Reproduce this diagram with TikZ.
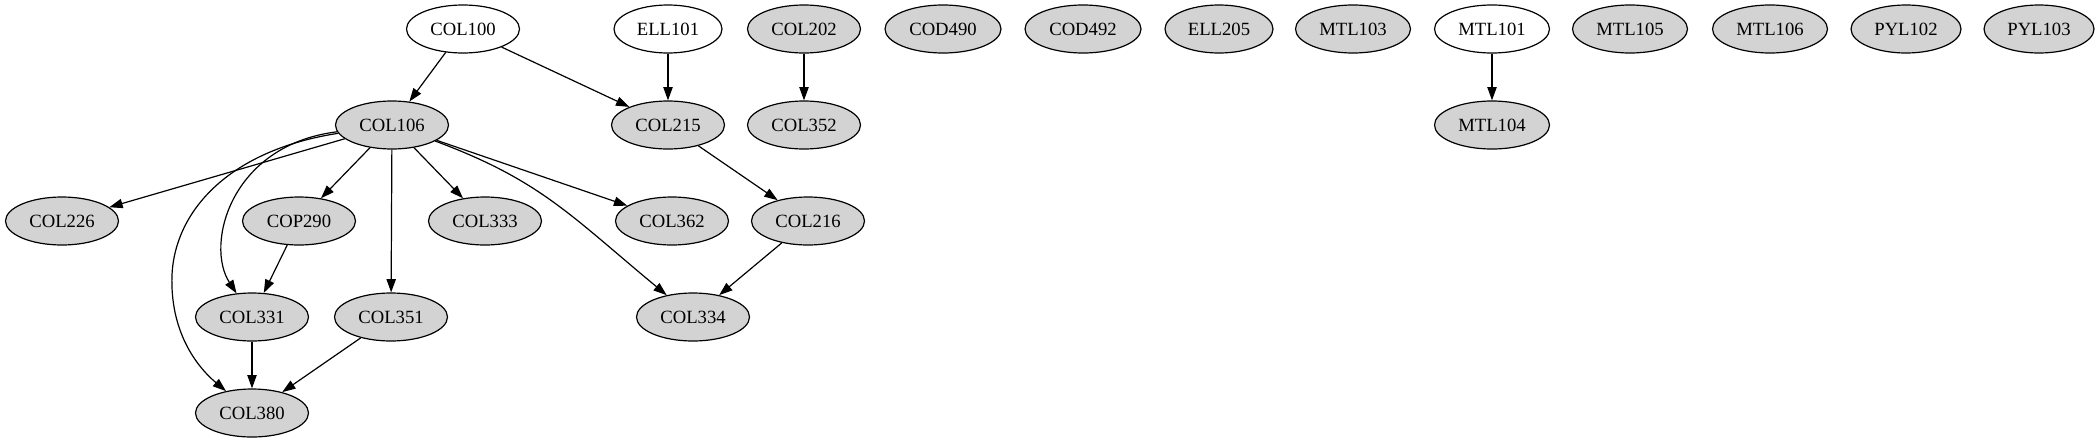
\documentclass[tikz,border=0pt]{standalone}
\usepackage{fontspec}
\setmainfont{Liberation Serif}
\usetikzlibrary{shapes.geometric,arrows.meta}
\definecolor{ngray}{HTML}{D3D3D3}
\tikzset{
  crs/.style={ellipse, draw=black, line width=0.9pt, fill=ngray, minimum height=36pt,
    minimum width=84.75pt, inner sep=0pt, font=\fontsize{14pt}{16pt}\selectfont},
  root/.style={fill=white},
  wcod/.style={minimum width=87pt},
  wmtl/.style={minimum width=86.25pt},
  wpyl/.style={minimum width=82.5pt},
  well/.style={minimum width=81pt},
  dep/.style={-{Triangle[length=10pt,width=7pt]}, line width=0.9pt, draw=black}
}
\begin{document}
\begin{tikzpicture}[x=0.75pt, y=-0.75pt]
\useasboundingbox (0,0) rectangle (2099,443);
% rank 1
\node[crs,root] (COL100) at (463,29) {COL100};
\node[crs,root,well] (ELL101) at (668,29) {ELL101};
\node[crs] (COL202) at (804,29) {COL202};
\node[crs,wcod] (COD490) at (943,29) {COD490};
\node[crs,wcod] (COD492) at (1083,29) {COD492};
\node[crs,well] (ELL205) at (1219,29) {ELL205};
\node[crs,wmtl] (MTL103) at (1353,29) {MTL103};
\node[crs,root,wmtl] (MTL101) at (1492,29) {MTL101};
\node[crs,wmtl] (MTL105) at (1630,29) {MTL105};
\node[crs,wmtl] (MTL106) at (1770,29) {MTL106};
\node[crs,wpyl] (PYL102) at (1906,29) {PYL102};
\node[crs,wpyl] (PYL103) at (2039,29) {PYL103};
% rank 2
\node[crs] (COL106) at (392,125) {COL106};
\node[crs] (COL215) at (668,125) {COL215};
\node[crs] (COL352) at (804,125) {COL352};
\node[crs,wmtl] (MTL104) at (1492,125) {MTL104};
% rank 3
\node[crs] (COL226) at (62,221) {COL226};
\node[crs] (COP290) at (299,221) {COP290};
\node[crs] (COL333) at (485,221) {COL333};
\node[crs] (COL362) at (672,221) {COL362};
\node[crs] (COL216) at (808,221) {COL216};
% rank 4
\node[crs] (COL331) at (252,317) {COL331};
\node[crs] (COL351) at (391,317) {COL351};
\node[crs] (COL334) at (693,317) {COL334};
% rank 5
\node[crs] (COL380) at (252,413) {COL380};
% edges
\draw[dep] (COL100) -- (COL106);
\draw[dep] (COL100) -- (COL215);
\draw[dep] (ELL101) -- (COL215);
\draw[dep] (COL202) -- (COL352);
\draw[dep] (MTL101) -- (MTL104);
\draw[dep] (COL106) -- (COL226);
\draw[dep] (COL106) -- (COP290);
\draw[dep] (COL106) -- (COL351);
\draw[dep] (COL106) -- (COL333);
\draw[dep] (COL106) -- (COL362);
\draw[dep] (COL106) .. controls (540,180) and (570,215) .. (COL334);
\draw[dep] (COL106) .. controls (230,145) and (205,245) .. (COL331);
\draw[dep] (COL106) .. controls (230,150) and (175,210) .. (172,275)
                     .. controls (170,330) and (195,365) .. (COL380);
\draw[dep] (COP290) -- (COL331);
\draw[dep] (COL331) -- (COL380);
\draw[dep] (COL351) -- (COL380);
\draw[dep] (COL215) -- (COL216);
\draw[dep] (COL216) -- (COL334);
\end{tikzpicture}
\end{document}
